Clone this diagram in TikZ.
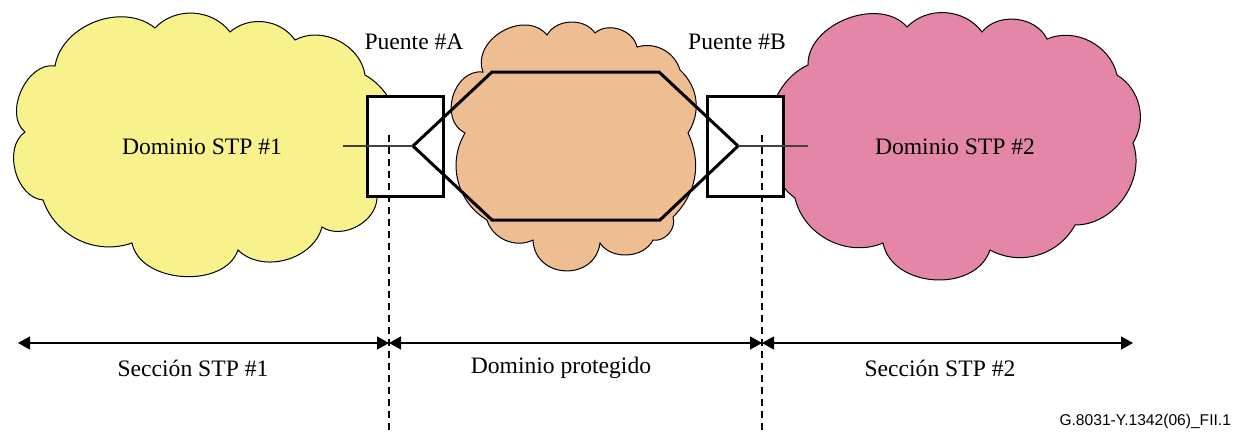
\documentclass[tikz,border=0pt]{standalone}
\usepackage{fontspec}
\setmainfont{Liberation Serif}
\newfontfamily\figfont{Liberation Sans}
\usetikzlibrary{arrows.meta,positioning}
\definecolor{stpyellow}{RGB}{247,242,139}
\definecolor{protorange}{RGB}{238,190,146}
\definecolor{stppink}{RGB}{228,134,167}

\begin{document}
\begin{tikzpicture}[x=0.5pt, y=-0.5pt, font=\fontsize{11.8}{14}\selectfont,
	cloud line/.style={draw=black, line width=0.5pt},
	bridge node/.style={rectangle, draw, fill=white, line width=1.5pt,
		minimum width=38pt, minimum height=50pt, inner sep=0pt},
	ring/.style={line width=1.5pt, line join=miter},
	link/.style={draw=black!75, line width=0.6pt},
	cut/.style={dash pattern=on 3.5pt off 2.5pt, line width=0.7pt},
	span/.style={{Triangle[length=6pt,width=6.5pt]}-{Triangle[length=6pt,width=6.5pt]}, line width=0.7pt}]
	
	\useasboundingbox (0,0) rectangle (1241,434);
	
	% clouds
	\draw[cloud line, fill=stpyellow] (25,132) to[bend left=75] (55,66)
		to[bend left=60] (155,28) to[bend left=50] (230,32)
		to[bend left=48] (295,40) to[bend left=55] (365,75)
		to[bend left=55] (377,197) to[bend left=62] (322,227)
		to[bend left=60] (238,250) to[bend left=75] (132,243)
		to[bend left=45] (43,200) to[bend left=70] (25,132) -- cycle;
	\draw[cloud line, fill=protorange] (465,133) to[bend left=80, looseness=1.2] (483,72)
		to[bend left=80, looseness=1.2] (547,35) to[bend left=58] (595,33)
		to[bend left=60] (637,47) to[bend left=45] (680,70)
		to[bend left=40] (688,133) to[bend left=35] (673,217)
		to[bend left=60] (653,240) to[bend left=60] (600,243)
		to[bend left=85, looseness=1.5] (533,240) to[bend left=50] (487,220)
		to[bend left=45] (465,133) -- cycle;
	\draw[cloud line, fill=stppink] (795,198) to[bend left=60] (808,65)
		to[bend left=70] (907,27) to[bend left=50] (982,32)
		to[bend left=58] (1047,39) to[bend left=50] (1117,75)
		to[bend left=45] (1133,143) to[bend left=55] (1075,225)
		to[bend left=45] (990,250) to[bend left=75, looseness=1.1] (883,243)
		to[bend left=50] (795,198) -- cycle;
	
	\node (dom1) at (202,147) {Dominio STP \#1};
	\node (dom2) at (955,147) {Dominio STP \#2};
	
	% bridges
	\node[bridge node] (puenteA) at (405.5,146) {};
	\node[bridge node] (puenteB) at (745.5,146) {};
	\node (lblA) at (414,42) {Puente \#A};
	\node (lblB) at (737,42) {Puente \#B};
	
	\coordinate (tipA) at (413,146);
	\coordinate (tipB) at (738,146);
	\coordinate (endA) at (343,146);
	\coordinate (endB) at (808,146);
	\draw[ring] (tipA) -- (492,72) -- (659,72) -- (tipB) -- (660,220) -- (492,220) -- cycle;
	\draw[link] (endA) -- (tipA);
	\draw[link] (tipB) -- (endB);
	
	% section limits
	\coordinate (cutA) at (389,135);
	\coordinate (cutB) at (762,135);
	\coordinate (baseA) at (389,434);
	\coordinate (baseB) at (762,434);
	\draw[cut] (cutA) -- (baseA);
	\draw[cut] (cutB) -- (baseB);
	
	\coordinate (secL) at (18,343);
	\coordinate (divA) at (389,343);
	\coordinate (divB) at (762,343);
	\coordinate (secR) at (1133,343);
	\draw[span] (secL) -- (divA);
	\draw[span] (divA) -- (divB);
	\draw[span] (divB) -- (secR);
	
	\node (sec1) at (193,368) {Sección STP \#1};
	\node (prot) at (561,368) {Dominio protegido};
	\node (sec2) at (940,368) {Sección STP \#2};
	
	\node[anchor=east, font=\figfont\fontsize{7.8}{9}\selectfont] (figid) at (1238,421) {G.8031-Y.1342(06)\_FII.1};
\end{tikzpicture}
\end{document}
